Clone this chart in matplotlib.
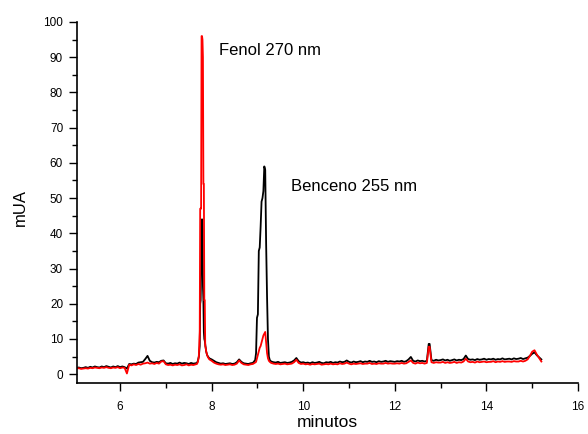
"""
Chromatogram of phenol (270 nm) and benzene (255 nm)
"""
import matplotlib
matplotlib.use('Agg')
import matplotlib.pyplot as plt
from matplotlib.ticker import MultipleLocator

plt.rcParams['font.family'] = ['Liberation Sans', 'DejaVu Sans']

# Retention time axis (minutes), split in pieces: baseline, phenol peak, baseline, benzene peak, baseline
t_base1 = [5.05, 5.10, 5.15, 5.20, 5.25, 5.30, 5.35, 5.40, 5.45, 5.50, 5.55, 5.60, 5.65, 5.70,
           5.75, 5.80, 5.85, 5.90, 5.95, 6.00, 6.05, 6.10, 6.15, 6.20, 6.25, 6.30, 6.35, 6.40,
           6.45, 6.50, 6.55, 6.60, 6.65, 6.70, 6.75, 6.80, 6.85, 6.90, 6.95, 7.00, 7.05, 7.10,
           7.15, 7.20, 7.25, 7.30, 7.35, 7.40, 7.45, 7.50, 7.55, 7.60, 7.65]
t_fenol = [7.68, 7.70, 7.72, 7.74, 7.75, 7.76, 7.77, 7.78, 7.79, 7.80, 7.81, 7.82, 7.83, 7.84,
           7.85, 7.86, 7.87, 7.88, 7.90, 7.92, 7.95]
t_base2 = [8.00, 8.05, 8.10, 8.15, 8.20, 8.25, 8.30, 8.35, 8.40, 8.45, 8.50, 8.55, 8.60, 8.65,
           8.70, 8.75, 8.80, 8.85, 8.90, 8.95]
t_benceno = [8.97, 8.99, 9.01, 9.03, 9.05, 9.07, 9.09, 9.11, 9.13, 9.15, 9.17, 9.19, 9.21, 9.23,
             9.25, 9.27]
t_base3 = [9.30, 9.35, 9.40, 9.45, 9.50, 9.55, 9.60, 9.65, 9.70, 9.75, 9.80, 9.85, 9.90, 9.95,
           10.00, 10.05, 10.10, 10.15, 10.20, 10.25, 10.30, 10.35, 10.40, 10.45, 10.50, 10.55,
           10.60, 10.65, 10.70, 10.75, 10.80, 10.85, 10.90, 10.95, 11.00, 11.05, 11.10, 11.15,
           11.20, 11.25, 11.30, 11.35, 11.40, 11.45, 11.50, 11.55, 11.60, 11.65, 11.70, 11.75,
           11.80, 11.85, 11.90, 11.95, 12.00, 12.05, 12.10, 12.15, 12.20, 12.25, 12.30, 12.35,
           12.40, 12.45, 12.50, 12.55, 12.60, 12.65, 12.70, 12.74, 12.76,
           12.80, 12.85, 12.90, 12.95, 13.00, 13.05, 13.10, 13.15, 13.20, 13.25, 13.30, 13.35,
           13.40, 13.45, 13.50, 13.55, 13.60, 13.65, 13.70, 13.75, 13.80, 13.85, 13.90, 13.95,
           14.00, 14.05, 14.10, 14.15, 14.20, 14.25, 14.30, 14.35, 14.40, 14.45, 14.50, 14.55,
           14.60, 14.65, 14.70, 14.75, 14.80, 14.85, 14.90, 14.95, 15.00, 15.05, 15.10, 15.15,
           15.20]

# Benceno 255 nm trace (black), mUA
black_base1 = [1.8, 1.9, 1.7, 1.8, 2.0, 1.8, 2.1, 1.9, 2.2, 2.0, 1.9, 2.2, 2.0, 2.3,
               2.1, 1.9, 2.2, 2.0, 2.3, 2.0, 2.2, 2.0, 1.6, 2.9, 2.8, 3.0, 2.9, 3.3,
               3.4, 3.5, 4.3, 5.2, 3.8, 3.4, 3.3, 3.5, 3.4, 3.8, 3.9, 3.1, 3.0, 3.2,
               2.9, 3.1, 3.0, 3.3, 3.0, 3.2, 3.1, 2.9, 3.2, 3.0, 3.1]
black_fenol = [3.2, 3.8, 5.0, 8.0, 20.0, 21.0, 30.0, 43.0, 44.0, 41.0, 25.0, 21.0, 12.0, 10.0,
               9.5, 8.5, 7.5, 6.5, 5.5, 5.0, 4.5]
black_base2 = [4.2, 3.8, 3.4, 3.2, 3.0, 3.1, 2.9, 3.0, 3.1, 2.9, 3.0, 3.4, 4.2, 3.5,
               3.1, 3.0, 2.9, 3.1, 3.2, 4.0]
black_benceno = [6.0, 16.0, 17.0, 35.0, 36.0, 42.0, 49.0, 50.0, 52.0, 59.0, 58.0, 37.0, 22.0, 10.0,
                 5.0, 4.0]
black_base3 = [3.6, 3.4, 3.3, 3.5, 3.2, 3.3, 3.4, 3.2, 3.3, 3.5, 3.9, 4.6, 3.7, 3.3,
               3.4, 3.2, 3.3, 3.1, 3.4, 3.2, 3.3, 3.5, 3.2, 3.1, 3.4, 3.3,
               3.5, 3.2, 3.4, 3.3, 3.6, 3.4, 3.5, 3.9, 3.5, 3.3, 3.6, 3.4,
               3.5, 3.7, 3.4, 3.6, 3.5, 3.8, 3.5, 3.6, 3.4, 3.7, 3.5, 3.6,
               3.8, 3.5, 3.7, 3.6, 3.5, 3.7, 3.6, 3.8, 3.5, 3.7, 4.2, 4.9,
               3.8, 3.6, 3.9, 3.7, 3.8, 3.6, 3.8, 8.6, 8.6,
               4.0, 3.8, 4.1, 3.9, 4.0, 4.2, 3.9, 4.1, 3.8, 4.0, 4.2, 3.9,
               4.1, 4.0, 4.3, 5.3, 4.3, 4.1, 4.2, 4.0, 4.3, 4.1, 4.2, 4.4,
               4.1, 4.3, 4.2, 4.4, 4.1, 4.3, 4.2, 4.5, 4.2, 4.3, 4.4, 4.2,
               4.5, 4.3, 4.4, 4.6, 4.3, 4.5, 4.7, 5.2, 5.8, 6.2, 5.4, 4.8,
               4.2]

# Fenol 270 nm trace (red), mUA
red_base1 = [1.6, 1.7, 1.5, 1.6, 1.7, 1.6, 1.8, 1.7, 1.9, 1.8, 1.7, 1.9, 1.8, 2.0,
             1.8, 1.7, 1.9, 1.8, 2.0, 1.7, 1.9, 1.8, 0.2, 2.7, 2.5, 2.8, 2.6, 2.9,
             2.7, 3.0, 3.1, 3.3, 3.0, 3.1, 2.9, 3.2, 3.0, 3.6, 3.7, 2.8, 2.6, 2.7,
             2.5, 2.7, 2.6, 2.8, 2.5, 2.6, 2.8, 2.5, 2.7, 2.6, 2.8]
red_fenol = [2.9, 3.5, 5.0, 12.0, 47.0, 47.0, 47.0, 96.0, 96.0, 95.0, 90.0, 54.0, 54.0, 21.0,
             21.0, 8.0, 7.5, 6.5, 5.5, 4.8, 4.2]
red_base2 = [3.8, 3.3, 3.0, 2.8, 2.7, 2.8, 2.6, 2.7, 2.8, 2.6, 2.7, 3.0, 3.9, 3.2,
             2.8, 2.7, 2.6, 2.8, 2.9, 3.3]
red_benceno = [3.5, 4.5, 5.5, 6.5, 7.5, 8.0, 9.0, 10.0, 11.0, 11.5, 12.0, 9.0, 6.0, 4.5,
               3.8, 3.5]
red_base3 = [3.2, 3.0, 2.9, 3.0, 2.8, 2.9, 3.0, 2.8, 2.9, 3.0, 3.4, 4.1, 3.2, 2.9,
             3.0, 2.8, 2.9, 2.7, 2.9, 2.8, 2.9, 3.0, 2.7, 2.8, 2.9, 2.8,
             3.0, 2.8, 2.9, 2.8, 3.1, 2.9, 3.0, 3.3, 3.0, 2.8, 3.0, 2.9,
             3.0, 3.1, 2.9, 3.0, 3.0, 3.2, 2.9, 3.0, 2.9, 3.1, 3.0, 3.0,
             3.2, 3.0, 3.1, 3.0, 3.0, 3.1, 3.0, 3.2, 3.0, 3.1, 3.5, 3.9,
             3.2, 3.0, 3.3, 3.1, 3.2, 3.0, 3.2, 7.8, 7.8,
             3.4, 3.2, 3.4, 3.3, 3.3, 3.5, 3.2, 3.4, 3.2, 3.3, 3.5, 3.2,
             3.4, 3.3, 3.6, 4.4, 3.6, 3.4, 3.5, 3.3, 3.6, 3.4, 3.5, 3.6,
             3.4, 3.5, 3.5, 3.7, 3.4, 3.6, 3.5, 3.7, 3.5, 3.6, 3.6, 3.5,
             3.7, 3.6, 3.6, 3.8, 3.6, 3.8, 4.2, 5.2, 6.4, 6.8, 5.6, 4.6,
             3.6]

time = t_base1 + t_fenol + t_base2 + t_benceno + t_base3
black = black_base1 + black_fenol + black_base2 + black_benceno + black_base3
red = red_base1 + red_fenol + red_base2 + red_benceno + red_base3

fig = plt.figure(figsize=(5.88, 4.34), dpi=100)
ax = fig.add_axes([77 / 588, 1 - 383 / 434, 501 / 588, 361 / 434])

# Black trace first, red on top
ax.plot(time, black, color='black', lw=1.3)
ax.plot(time, red, color='#ff0000', lw=1.3)

ax.set_xlim(5.06, 16)
ax.set_ylim(-2.5, 100)

# Axes look: only left and bottom spines, ticks outside
ax.spines['top'].set_visible(False)
ax.spines['right'].set_visible(False)
for side in ['left', 'bottom']:
    ax.spines[side].set_linewidth(1.2)
ax.xaxis.set_major_locator(MultipleLocator(2))
ax.xaxis.set_minor_locator(MultipleLocator(1))
ax.yaxis.set_major_locator(MultipleLocator(10))
ax.yaxis.set_minor_locator(MultipleLocator(5))
ax.tick_params(which='major', direction='out', length=6, width=1, labelsize=8.5)
ax.tick_params(which='minor', direction='out', length=3.5, width=1)
ax.tick_params(axis='x', which='major', pad=7)
ax.tick_params(axis='y', which='major', pad=4)

# Peak labels
ax.text(8.17, 90.6, 'Fenol 270 nm', fontsize=12, va='baseline', ha='left')
ax.text(9.73, 52.1, 'Benceno 255 nm', fontsize=12, va='baseline', ha='left')

# Axis titles
fig.text(20 / 588, 1 - 208 / 434, 'mUA', rotation=90, fontsize=12, ha='center', va='center')
fig.text(327.5 / 588, 0.016, 'minutos', fontsize=12.5, ha='center', va='baseline')

plt.savefig('out.png', dpi=100)
